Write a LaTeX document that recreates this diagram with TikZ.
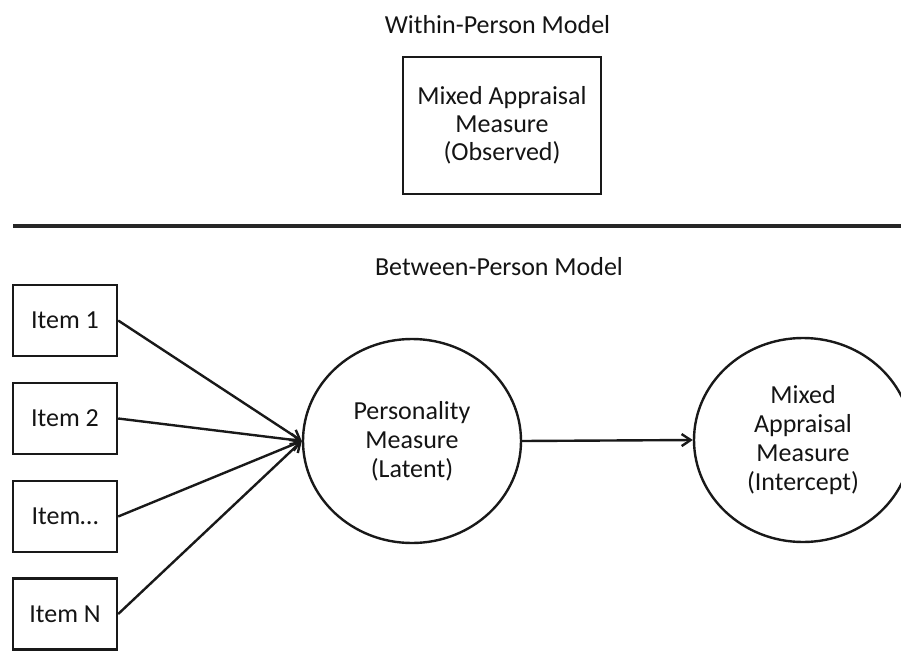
\documentclass[tikz,border=0pt]{standalone}
\usepackage{fontspec}
\setmainfont{Carlito}
\usetikzlibrary{shapes.geometric,arrows.meta}
\begin{document}
\begin{tikzpicture}[x=1pt,y=-1pt,
  every node/.style={font=\fontsize{26}{29}\selectfont, text=black!92, align=center},
  box/.style={draw=black!90, line width=2.4pt, rectangle, inner sep=0pt},
  itembox/.style={box, minimum width=104pt, minimum height=71pt},
  oval/.style={draw=black!90, line width=2.4pt, ellipse, inner sep=0pt, minimum width=218pt, minimum height=204pt},
  arr/.style={draw=black!90, line width=2.4pt, -{Straight Barb[length=9pt,width=12pt,line width=2.4pt]}},
  divider/.style={draw=black!85, line width=3.2pt},
  title/.style={anchor=base}
]
\useasboundingbox (0,0) rectangle (901,650);
\clip (0,0) rectangle (901,650);

\node[title] (wtitle) at (497.5,34) {Within-Person Model};
\node[box, minimum width=198pt, minimum height=137pt, font=\fontsize{26}{28}\selectfont] (obs) at (502,125.5) {Mixed Appraisal\\Measure\\(Observed)};

\coordinate (dl) at (13,226);
\coordinate (dr) at (901,226);
\draw[divider] (dl) -- (dr);

\node[title] (btitle) at (499,275) {Between-Person Model};

\node[itembox] (i1) at (65,320.5) {Item 1};
\node[itembox] (i2) at (65,418.5) {Item 2};
\node[itembox] (i3) at (65,516.5) {Item\dots};
\node[itembox] (i4) at (65,614) {Item N};

\node[oval] (pers) at (412,441) {Personality\\Measure\\(Latent)};
\node[oval] (mix) at (803,440) {Mixed\\Appraisal\\Measure\\(Intercept)};

\draw[arr] (i1.east) -- (pers.west);
\draw[arr] (i2.east) -- (pers.west);
\draw[arr] (i3.east) -- (pers.west);
\draw[arr] (i4.east) -- (pers.west);
\draw[arr] (pers.east) -- (mix.west);
\end{tikzpicture}
\end{document}
